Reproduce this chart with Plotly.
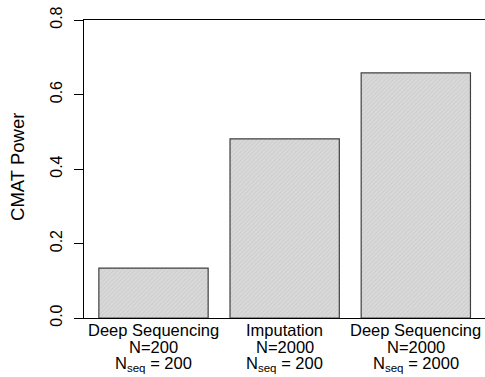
import plotly.graph_objects as go

# Data
methods = ["Deep Sequencing", "Imputation", "Deep Sequencing"]
n_values = ["N=200", "N=2000", "N=2000"]
nseq_values = ["200", "200", "2000"]
power = [0.134, 0.481, 0.658]
y_ticks = [0.0, 0.2, 0.4, 0.6, 0.8]

# R barplot positions (space=0.2, width=1)
xpos = [0.7 + 1.2 * i for i in range(len(power))]

FONT = "Liberation Sans, Arial, Helvetica, sans-serif"

fig = go.Figure()
fig.add_trace(go.Bar(
    x=xpos, y=power, width=1.0,
    marker=dict(
        color="#d4d4d4",
        line=dict(color="#404040", width=1.2),
        pattern=dict(shape="/", fgcolor="#b4b4b4", bgcolor="#d8d8d8",
                     size=3, solidity=0.25),
    ),
    showlegend=False,
    hoverinfo="skip",
))

annotations = []
line_offsets = [1, 18, 34]  # pixels below axis
for x, m, n, s in zip(xpos, methods, n_values, nseq_values):
    texts = [m, n, "N<sub>seq</sub> = " + s]
    for t, off in zip(texts, line_offsets):
        annotations.append(dict(
            x=x, xref="x", y=0, yref="paper", yshift=-off,
            text=t, showarrow=False, xanchor="center", yanchor="top",
            font=dict(family=FONT, size=16.5, color="black"),
        ))

annotations.append(dict(
    x=-66 / 401, xref="paper", y=0.507, yref="paper",
    text="CMAT Power", textangle=-90, showarrow=False,
    xanchor="center", yanchor="middle",
    font=dict(family=FONT, size=18.5, color="black"),
))

fig.update_layout(
    width=485, height=377,
    margin=dict(l=84, r=0, t=20, b=59, pad=0),
    paper_bgcolor="white", plot_bgcolor="white",
    font=dict(family=FONT, size=16, color="black"),
    xaxis=dict(range=[0.064, 3.733], showgrid=False, zeroline=False,
               showticklabels=False, ticks="", showline=True, mirror=True,
               linecolor="black", linewidth=1),
    yaxis=dict(range=[0, 0.8], tickvals=y_ticks,
               ticktext=[f"{v:.1f}" for v in y_ticks],
               tickangle=-90, ticks="outside", ticklen=9, tickcolor="black",
               ticklabelstandoff=6,
               showgrid=False, zeroline=False, showline=True,
               linecolor="black", linewidth=1,
               tickfont=dict(family=FONT, size=16, color="black")),
    annotations=annotations,
)

fig.write_html("out.html",
               config={"displayModeBar": False},
               post_script="document.body.style.margin='0';document.body.style.overflow='hidden';")
